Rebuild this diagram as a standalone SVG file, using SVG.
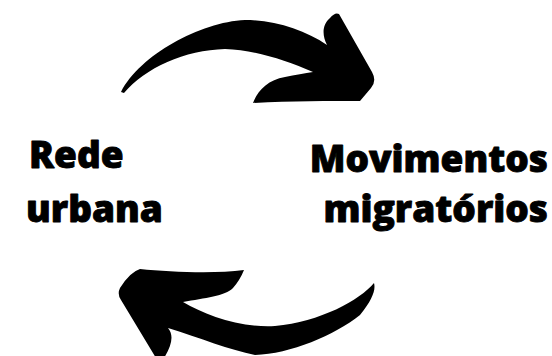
<svg xmlns="http://www.w3.org/2000/svg" width="552" height="356" viewBox="0 0 552 356">
  <style>
    .label { font-family: "Open Sans", "Liberation Sans", sans-serif; font-weight: 800; font-size: 37px; fill: #000; stroke: #000; stroke-width: 0.9px; stroke-linejoin: round; }
    .arrow { fill: #000; stroke: none; }
  </style>
  <rect width="552" height="356" fill="#fff"/>
  <g id="connectors">
    <!-- upper arrow: left to right -->
    <path id="arrow-top" class="arrow" d="M 121 92 C 140 55, 200 22, 245 20 C 275 20, 305 30, 327 45 C 322 35, 322 25, 330 18 Q 335 12, 339 14 L 372 72 Q 377 81, 371 88 L 360 101 C 330 101, 290 101, 253 103 C 258 90, 268 80, 285 77 C 295 75, 305 73, 313 72 C 285 60, 255 50, 225 49 C 185 50, 145 68, 124 93 Z"/>
    <!-- lower arrow: right to left -->
    <path id="arrow-bottom" class="arrow" d="M 374 283 C 360 300, 320 322, 275 326 C 240 328, 205 315, 183 302 C 205 298, 225 296, 233 288 Q 240 280, 244 270 C 215 274, 170 272, 140 269 Q 130 272, 120 288 Q 117 294, 121 300 L 156 358 L 164 358 C 172 345, 174 335, 168 328 C 200 338, 230 350, 255 355 C 290 354, 335 335, 360 315 C 372 300, 376 290, 374 283 Z"/>
  </g>
  <g id="node-rede-urbana">
    <text class="label" x="29" y="168">Rede</text>
    <text class="label" x="26" y="222">urbana</text>
  </g>
  <g id="node-movimentos-migratorios">
    <text class="label" x="548" y="172" text-anchor="end">Movimentos</text>
    <text class="label" x="548" y="222" text-anchor="end">migratórios</text>
  </g>
</svg>
